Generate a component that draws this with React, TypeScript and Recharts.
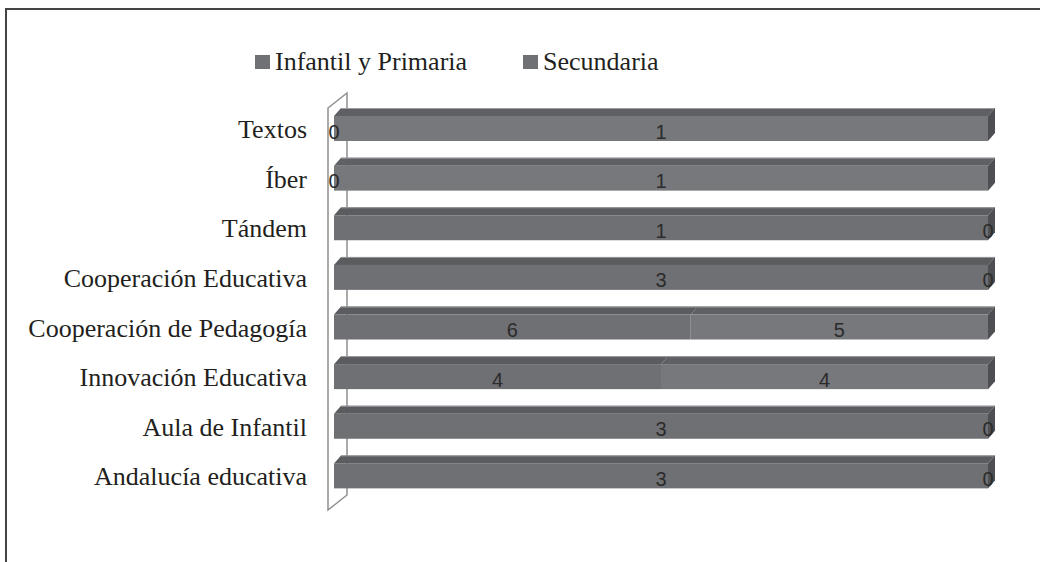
import { BarChart, Bar, XAxis, YAxis, LabelList, ReferenceArea } from "recharts";

const categories = [
  "Textos",
  "Íber",
  "Tándem",
  "Cooperación Educativa",
  "Cooperación de Pedagogía",
  "Innovación Educativa",
  "Aula de Infantil",
  "Andalucía educativa",
];
const infantil = [0, 0, 1, 3, 6, 4, 3, 3];
const secundaria = [1, 1, 0, 0, 5, 4, 0, 0];
const seriesNames = ["Infantil y Primaria", "Secundaria"];

const data = categories.map((name, i) => ({ name, infantil: infantil[i], secundaria: secundaria[i] }));

const SERIF = "'Liberation Serif', 'Times New Roman', serif";
const DX = 7;
const DY = 8;

// front face + top face, and the side face at the right end for the last series
const make3D = (front: string, top: string, withSide: boolean) => (props: any) => {
  const { x, y, width, height } = props;
  const w = Math.max(width || 0, 0);
  return (
    <g>
      <polygon points={`${x},${y} ${x + DX},${y - DY} ${x + w + DX},${y - DY} ${x + w},${y}`} fill={top} />
      {w > 0 && (
        <line x1={x + DX} y1={y - DY + 0.5} x2={x + w + DX} y2={y - DY + 0.5} stroke="#9a9b9e" strokeWidth={1} />
      )}
      <rect x={x} y={y} width={w} height={height} fill={front} />
      {withSide && (
        <polygon
          points={`${x + w},${y} ${x + w + DX},${y - DY} ${x + w + DX},${y + height - DY} ${x + w},${y + height}`}
          fill="#4e4f52"
        />
      )}
    </g>
  );
};

const Wall = (props: any) => {
  const { x, y, height } = props;
  return (
    <polygon
      points={`${x - 6},${y + 4} ${x + 13},${y - 11} ${x + 13},${y + height - 6} ${x - 6},${y + height + 9}`}
      fill="#ffffff"
      stroke="#8f8f8f"
      strokeWidth={1.5}
    />
  );
};

const renderLabel = (props: any) => {
  const vb = props.viewBox ?? props;
  const { x, y, width, height } = vb;
  return (
    <text
      x={x + width / 2}
      y={y + height / 2 + 3}
      textAnchor="middle"
      dominantBaseline="central"
      fill="#2b2b2b"
      fontSize={20}
      fontFamily="'Liberation Sans', Arial, sans-serif"
    >
      {props.value}
    </text>
  );
};

export default function App() {
  return (
    <div style={{ position: "absolute", left: 0, top: 0, width: 1040, height: 562, background: "#fff", overflow: "hidden" }}>
      <div
        style={{
          position: "absolute",
          left: 5,
          top: 8,
          width: 1100,
          height: 600,
          borderLeft: "2px solid #444",
          borderTop: "2px solid #444",
        }}
      />
      <div
        style={{
          position: "absolute",
          left: 255,
          top: 49,
          display: "flex",
          alignItems: "center",
          fontFamily: SERIF,
          fontSize: 26,
          lineHeight: "26px",
          color: "#231f20",
          whiteSpace: "nowrap",
        }}
      >
        {seriesNames.map((n, i) => (
          <div key={n} style={{ display: "flex", alignItems: "center", marginRight: i === 0 ? 56 : 0 }}>
            <div style={{ width: 15, height: 14, background: "#707174", marginRight: 5 }} />
            <span>{n}</span>
          </div>
        ))}
      </div>
      <div style={{ position: "absolute", left: 0, top: 0 }}>
        <BarChart
          width={1040}
          height={562}
          data={data}
          layout="vertical"
          stackOffset="expand"
          barSize={25}
          margin={{ top: 104, right: 52, bottom: 61, left: 0 }}
        >
          <XAxis type="number" hide domain={[0, 1]} />
          <YAxis
            type="category"
            dataKey="name"
            width={334}
            axisLine={false}
            tickLine={false}
            tickSize={0}
            tickMargin={27}
            interval={0}
            tick={{ fill: "#231f20", fontSize: 26, fontFamily: SERIF }}
          />
          <ReferenceArea x1={0} x2={1} shape={Wall} ifOverflow="visible" />
          <Bar
            dataKey="infantil"
            name={seriesNames[0]}
            stackId="a"
            fill="#6f7073"
            shape={make3D("#6f7073", "#5b5c5f", false)}
            isAnimationActive={false}
          >
            <LabelList dataKey="infantil" position="center" content={renderLabel} />
          </Bar>
          <Bar
            dataKey="secundaria"
            name={seriesNames[1]}
            stackId="a"
            fill="#77787c"
            shape={make3D("#77787c", "#5f6063", true)}
            isAnimationActive={false}
          >
            <LabelList dataKey="secundaria" position="center" content={renderLabel} />
          </Bar>
        </BarChart>
      </div>
    </div>
  );
}
